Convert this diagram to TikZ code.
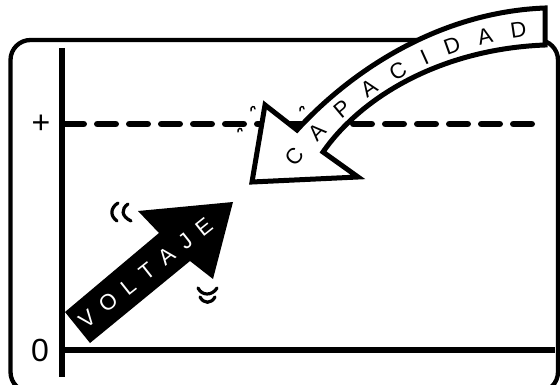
\documentclass[tikz,border=0pt]{standalone}
\usepackage{fontspec}
\setmainfont{Liberation Sans}
\usetikzlibrary{decorations.text,calc}
\newcommand\capfont{\fontsize{22}{22}\selectfont}
\newcommand\vgap{\hspace{10.95pt}}
\begin{document}
\begin{tikzpicture}[x=1pt,y=-1pt,
  frame/.style={line width=4.3pt, rounded corners=20pt},
  axisline/.style={line width=5.5pt},
  dashline/.style={line width=6.5pt, line cap=round, dash pattern=on 18.5pt off 13.5pt},
  caparrow/.style={draw=black, fill=white, line width=5pt, line join=miter},
  voltarrow/.style={fill=black},
  lbl/.style={font=\fontsize{32}{32}\selectfont, inner sep=0pt},
  volt/.style={text=white, font=\fontsize{22}{22}\selectfont, inner sep=0pt, rotate=38.4},
  wiggle/.style={line width=3.2pt, line cap=round},
  curlmark/.style={line width=1.4pt, line cap=round}
]
\useasboundingbox (0,0) rectangle (560,385);
% frame
\draw[frame] (10.5,40) rectangle (558,392);
% axes
\coordinate (ytop) at (62,48);
\coordinate (ybot) at (62,377);
\coordinate (xl) at (62,350);
\coordinate (xr) at (555,350);
\draw[axisline] (ytop) -- (ybot);
\draw[axisline] (xl) -- (xr);
% dashed level
\coordinate (dl) at (65.25,124);
\coordinate (dr) at (544.75,124);
\draw[dashline] (dl) -- (dr);
% labels
\node[lbl] (plus) at (41,124) {+};
\node[lbl] (zero) at (40,350) {0};
% voltaje arrow
\coordinate (vt1) at (65,312);
\coordinate (vt2) at (159,233);
\coordinate (vb1) at (138,211);
\coordinate (vtip) at (233,202);
\coordinate (vb2) at (213,279);
\coordinate (vt3) at (190,261);
\coordinate (vt4) at (90,343);
\fill[voltarrow] (vt1) -- (vt2) -- (vb1) -- (vtip) -- (vb2) -- (vt3) -- (vt4) -- cycle;
\node[volt] (voltlbl) at (145.5,273) {V\vgap O\vgap L\vgap T\vgap A\vgap J\vgap E};
% motion marks
\draw[wiggle] (118,203) .. controls (110,208) and (110,216) .. (117,221);
\draw[wiggle] (128,204) .. controls (121,209) and (121,216) .. (131,221);
\draw[wiggle] (198,288) .. controls (202,296) and (212,296) .. (217,288);
\draw[wiggle] (200,297) .. controls (204,304) and (211,304) .. (215,297);
% capacidad arrow
\coordinate (ct1) at (545,8);
\coordinate (cj1) at (297,130);
\coordinate (cb1) at (265,105);
\coordinate (ctip) at (252,182);
\coordinate (cb2) at (358,177);
\coordinate (cj2) at (323,152);
\coordinate (ct2) at (545,45);
\draw[caparrow] (ct1) .. controls (440,12) and (352,70) .. (cj1) -- (cb1) -- (ctip) -- (cb2) -- (cj2)
  .. controls (362,96) and (442,49) .. (ct2) -- cycle;
\coordinate (cs) at (289.5,163);
\coordinate (ce) at (526,28);
\path[decorate, decoration={text along path, text={|\capfont|CAPACIDAD}, text align=fit to path, raise=-8pt}]
  (cs) .. controls (346,89) and (433.6,39.6) .. (ce);
% tiny curls
\draw[curlmark] (251,111) .. controls (250,106) and (255,105) .. (255,109);
\draw[curlmark] (238,132) .. controls (237,128) and (242,127) .. (242,131);
\draw[curlmark] (300,111) .. controls (299,106) and (304,105) .. (304,109);
\end{tikzpicture}
\end{document}
